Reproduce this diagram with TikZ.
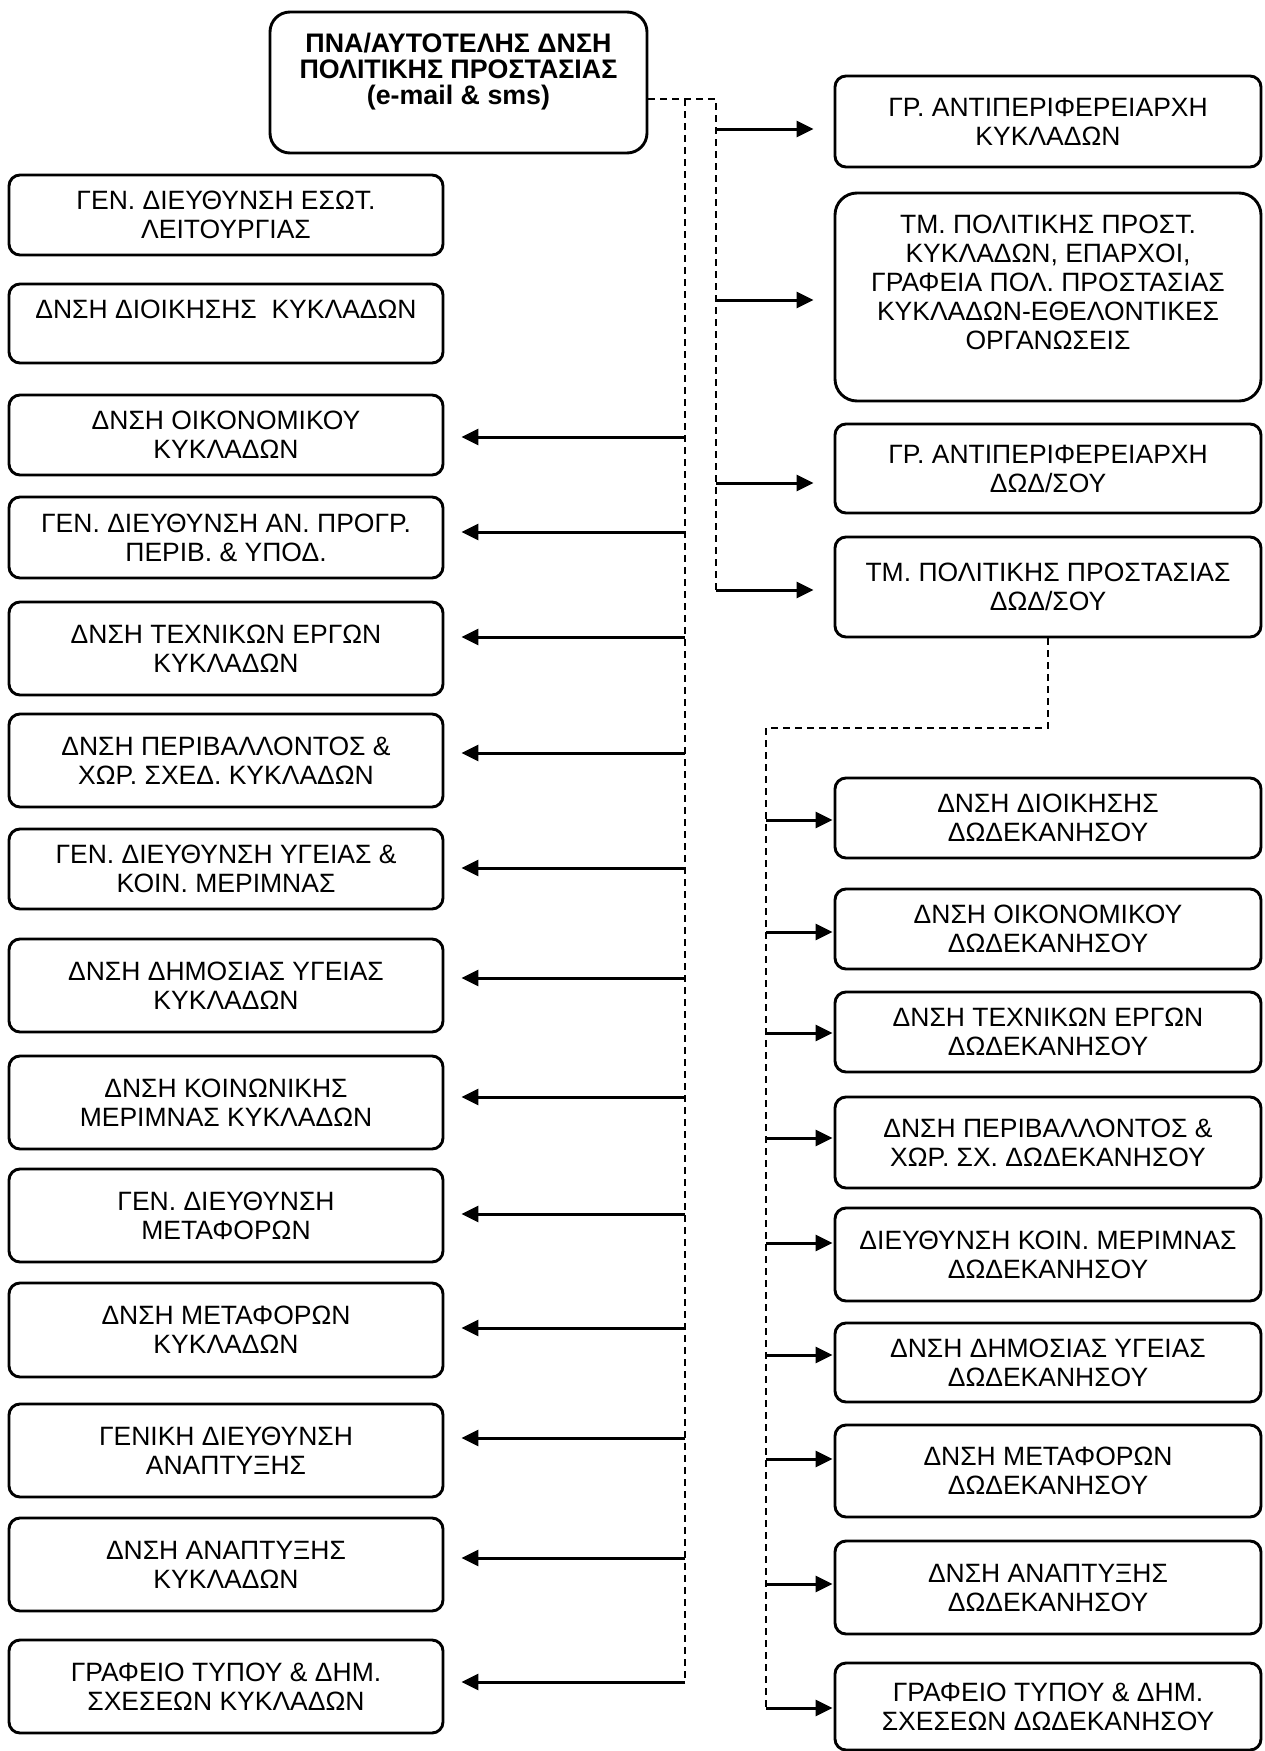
\documentclass[tikz,border=0pt]{standalone}
\usepackage{fontspec}
\setmainfont{Liberation Sans}
\usetikzlibrary{arrows.meta}
\begin{document}
\begin{tikzpicture}[x=1pt,y=-1pt,
  box/.style={draw=black,line width=2.9pt,rounded corners=11pt,align=center,inner sep=0pt,
    font=\fontsize{26.5}{29}\selectfont},
  lbox/.style={box,minimum width=434pt},
  rbox/.style={box,minimum width=426pt},
  dsh/.style={line width=1.5pt,dash pattern=on 7pt off 5pt},
  arr/.style={line width=3pt,-{Triangle[length=17pt,width=16pt]}},
]
\fill[white] (0,0) rectangle (1264,1751);
\useasboundingbox (0,0) rectangle (1264,1751);

% top box
\node[box,rounded corners=20pt,minimum width=377pt,minimum height=141pt,
  font=\fontsize{26.8}{26}\selectfont\bfseries] (T) at (458.5,82.5)
  {ΠΝΑ/ΑΥΤΟΤΕΛΗΣ ΔΝΣΗ\\ΠΟΛΙΤΙΚΗΣ ΠΡΟΣΤΑΣΙΑΣ\\(e-mail \& sms)\\[2pt]~};

% left column
\node[lbox,minimum height=80pt] (L1) at (226,215) {ΓΕΝ. ΔΙΕΥΘΥΝΣΗ ΕΣΩΤ.\\ΛΕΙΤΟΥΡΓΙΑΣ};
\node[lbox,minimum height=79pt] (L2) at (226,323.5) {ΔΝΣΗ ΔΙΟΙΚΗΣΗΣ\ \ ΚΥΚΛΑΔΩΝ\\~};
\node[lbox,minimum height=80pt] (L3) at (226,435) {ΔΝΣΗ ΟΙΚΟΝΟΜΙΚΟΥ\\ΚΥΚΛΑΔΩΝ};
\node[lbox,minimum height=81pt] (L4) at (226,537.5) {ΓΕΝ. ΔΙΕΥΘΥΝΣΗ ΑΝ. ΠΡΟΓΡ.\\ΠΕΡΙΒ. \& ΥΠΟΔ.};
\node[lbox,minimum height=93pt] (L5) at (226,648.5) {ΔΝΣΗ ΤΕΧΝΙΚΩΝ ΕΡΓΩΝ\\ΚΥΚΛΑΔΩΝ};
\node[lbox,minimum height=93pt] (L6) at (226,760.5) {ΔΝΣΗ ΠΕΡΙΒΑΛΛΟΝΤΟΣ \&\\ΧΩΡ. ΣΧΕΔ. ΚΥΚΛΑΔΩΝ};
\node[lbox,minimum height=80pt] (L7) at (226,869) {ΓΕΝ. ΔΙΕΥΘΥΝΣΗ ΥΓΕΙΑΣ \&\\ΚΟΙΝ. ΜΕΡΙΜΝΑΣ};
\node[lbox,minimum height=93pt] (L8) at (226,985.5) {ΔΝΣΗ ΔΗΜΟΣΙΑΣ ΥΓΕΙΑΣ\\ΚΥΚΛΑΔΩΝ};
\node[lbox,minimum height=93pt] (L9) at (226,1102.5) {ΔΝΣΗ ΚΟΙΝΩΝΙΚΗΣ\\ΜΕΡΙΜΝΑΣ ΚΥΚΛΑΔΩΝ};
\node[lbox,minimum height=93pt] (L10) at (226,1215.5) {ΓΕΝ. ΔΙΕΥΘΥΝΣΗ\\ΜΕΤΑΦΟΡΩΝ};
\node[lbox,minimum height=94pt] (L11) at (226,1330) {ΔΝΣΗ ΜΕΤΑΦΟΡΩΝ\\ΚΥΚΛΑΔΩΝ};
\node[lbox,minimum height=93pt] (L12) at (226,1450.5) {ΓΕΝΙΚΗ ΔΙΕΥΘΥΝΣΗ\\ΑΝΑΠΤΥΞΗΣ};
\node[lbox,minimum height=93pt] (L13) at (226,1564.5) {ΔΝΣΗ ΑΝΑΠΤΥΞΗΣ\\ΚΥΚΛΑΔΩΝ};
\node[lbox,minimum height=93pt] (L14) at (226,1686.5) {ΓΡΑΦΕΙΟ ΤΥΠΟΥ \& ΔΗΜ.\\ΣΧΕΣΕΩΝ ΚΥΚΛΑΔΩΝ};

% right column
\node[rbox,minimum height=91pt] (R1) at (1048,121.5) {ΓΡ. ΑΝΤΙΠΕΡΙΦΕΡΕΙΑΡΧΗ\\ΚΥΚΛΑΔΩΝ};
\node[rbox,rounded corners=22pt,minimum height=208pt] (R2) at (1048,297) {ΤΜ. ΠΟΛΙΤΙΚΗΣ ΠΡΟΣΤ.\\ΚΥΚΛΑΔΩΝ, ΕΠΑΡΧΟΙ,\\ΓΡΑΦΕΙΑ ΠΟΛ. ΠΡΟΣΤΑΣΙΑΣ\\ΚΥΚΛΑΔΩΝ-ΕΘΕΛΟΝΤΙΚΕΣ\\ΟΡΓΑΝΩΣΕΙΣ\\~};
\node[rbox,minimum height=89pt] (R3) at (1048,468.5) {ΓΡ. ΑΝΤΙΠΕΡΙΦΕΡΕΙΑΡΧΗ\\ΔΩΔ/ΣΟΥ};
\node[rbox,minimum height=100pt] (R4) at (1048,587) {ΤΜ. ΠΟΛΙΤΙΚΗΣ ΠΡΟΣΤΑΣΙΑΣ\\ΔΩΔ/ΣΟΥ};
\node[rbox,minimum height=80pt] (R5) at (1048,818) {ΔΝΣΗ ΔΙΟΙΚΗΣΗΣ\\ΔΩΔΕΚΑΝΗΣΟΥ};
\node[rbox,minimum height=80pt] (R6) at (1048,929) {ΔΝΣΗ ΟΙΚΟΝΟΜΙΚΟΥ\\ΔΩΔΕΚΑΝΗΣΟΥ};
\node[rbox,minimum height=80pt] (R7) at (1048,1032) {ΔΝΣΗ ΤΕΧΝΙΚΩΝ ΕΡΓΩΝ\\ΔΩΔΕΚΑΝΗΣΟΥ};
\node[rbox,minimum height=91pt] (R8) at (1048,1142.5) {ΔΝΣΗ ΠΕΡΙΒΑΛΛΟΝΤΟΣ \&\\ΧΩΡ. ΣΧ. ΔΩΔΕΚΑΝΗΣΟΥ};
\node[rbox,minimum height=93pt] (R9) at (1048,1254.5) {ΔΙΕΥΘΥΝΣΗ ΚΟΙΝ. ΜΕΡΙΜΝΑΣ\\ΔΩΔΕΚΑΝΗΣΟΥ};
\node[rbox,minimum height=79pt] (R10) at (1048,1362.5) {ΔΝΣΗ ΔΗΜΟΣΙΑΣ ΥΓΕΙΑΣ\\ΔΩΔΕΚΑΝΗΣΟΥ};
\node[rbox,minimum height=92pt] (R11) at (1048,1471) {ΔΝΣΗ ΜΕΤΑΦΟΡΩΝ\\ΔΩΔΕΚΑΝΗΣΟΥ};
\node[rbox,minimum height=93pt] (R12) at (1048,1587.5) {ΔΝΣΗ ΑΝΑΠΤΥΞΗΣ\\ΔΩΔΕΚΑΝΗΣΟΥ};
\node[rbox,minimum height=87pt] (R13) at (1048,1706.5) {ΓΡΑΦΕΙΟ ΤΥΠΟΥ \& ΔΗΜ.\\ΣΧΕΣΕΩΝ ΔΩΔΕΚΑΝΗΣΟΥ};

% trunk coordinates
\coordinate (lt0) at (685,99);
\coordinate (rt0) at (716,99);
\coordinate (rt1) at (716,129);
\coordinate (rt2) at (716,300);
\coordinate (rt3) at (716,483);
\coordinate (rt4) at (716,590);
\foreach \n/\yy in {3/437,4/532,5/637,6/753,7/868,8/978,9/1097,10/1214,11/1328,12/1438,13/1558,14/1682}
  \coordinate (lt\n) at (685,\yy);
\coordinate (bend) at (766,728);
\foreach \n/\yy in {5/820,6/932,7/1033,8/1138,9/1243,10/1355,11/1459,12/1584,13/1708}
  \coordinate (dt\n) at (766,\yy);

% dashed trunks
\draw[dsh] (T.east |- rt0) -- (rt0) -- (rt4);
\draw[dsh] (lt0) -- (lt14);
\draw[dsh] (R4.south) -- (R4.south |- bend) -- (bend) -- (dt13);

% arrows to left column
\foreach \n in {3,...,14}
  \draw[arr,shorten >=17pt] (lt\n) -- (L\n.east |- lt\n);
% arrows to upper right
\foreach \n in {1,...,4}
  \draw[arr,shorten >=20pt] (rt\n) -- (R\n.west |- rt\n);
% arrows to lower right
\foreach \n in {5,...,13}
  \draw[arr,shorten >=1pt] (dt\n) -- (R\n.west |- dt\n);
\end{tikzpicture}
\end{document}
